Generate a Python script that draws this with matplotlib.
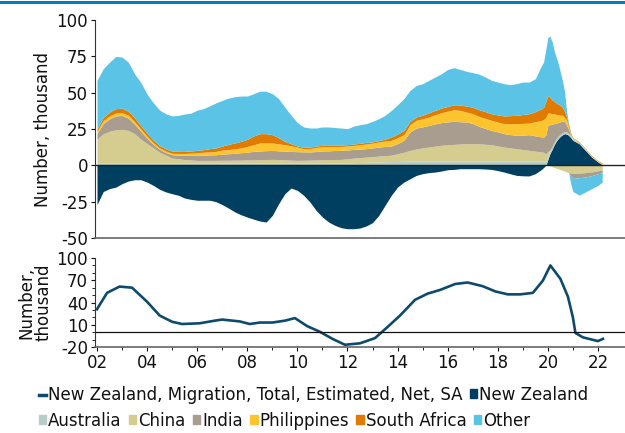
import matplotlib
matplotlib.use("Agg")
import matplotlib.pyplot as plt
import numpy as np
from matplotlib.patches import Patch
from matplotlib.lines import Line2D

plt.rcParams['font.family'] = ['DejaVu Sans']
plt.rcParams['axes.unicode_minus'] = False

# ---------------------------------------------------------------- data
dates = [2002.00, 2002.25, 2002.50, 2002.75, 2003.00, 2003.25, 2003.50, 2003.75,
         2004.00, 2004.25, 2004.50, 2004.75, 2005.00, 2005.25, 2005.50, 2005.75,
         2006.00, 2006.25, 2006.50, 2006.75, 2007.00, 2007.25, 2007.50, 2007.75,
         2008.00, 2008.25, 2008.50, 2008.75, 2009.00, 2009.25, 2009.50, 2009.75,
         2010.00, 2010.25, 2010.50, 2010.75, 2011.00, 2011.25, 2011.50, 2011.75,
         2012.00, 2012.25, 2012.50, 2012.75, 2013.00, 2013.25, 2013.50, 2013.75,
         2014.00, 2014.25, 2014.50, 2014.75, 2015.00, 2015.25, 2015.50, 2015.75,
         2016.00, 2016.25, 2016.50, 2016.75, 2017.00, 2017.25, 2017.50, 2017.75,
         2018.00, 2018.25, 2018.50, 2018.75, 2019.00, 2019.25, 2019.50, 2019.75,
         2019.83, 2019.92, 2020.00, 2020.08, 2020.17, 2020.25, 2020.33, 2020.42,
         2020.50, 2020.58, 2020.67, 2020.75, 2020.83, 2020.92, 2021.00, 2021.25,
         2021.50, 2021.75, 2022.00, 2022.17]

new_zealand = [-27, -18, -16, -15, -12.6, -10.8, -9.9, -9.9,
               -11.5, -13.8, -16.5, -18.3, -19.5, -20.6, -22.5, -23.4,
               -24, -24, -24, -25, -27, -29.4, -32, -34,
               -35.6, -37, -38.3, -39, -34.4, -26.4, -19.5, -15.6,
               -17.2, -20.6, -25.2, -31, -35.6, -39, -41.3, -42.9,
               -43.6, -43.6, -43.1, -41.7, -39.4, -34.4, -27.5, -20.6,
               -14.9, -11.5, -9.2, -6.9, -5.7, -5, -4.6, -3.9,
               -3, -2.8, -2.3, -2.3, -2.3, -2.3, -2.5, -2.8,
               -3.6, -4.6, -5.8, -6.9, -7.2, -7.3, -5.7, -2.8,
               -1.5, 0, 4, 8, 11, 14, 16.5, 18.5,
               20, 21, 21.8, 21.5, 20.6, 19, 17.2, 14.9,
               10.3, 5.7, 2.3, 0.5]
australia = [1.5] * 40 + [1.7, 1.8, 2.0, 2.1, 2.2, 2.3, 2.5, 2.6,
                          2.7, 2.8, 2.9] + [3.0] * 21 + \
            [3, 3, 2.5, 2, 2, 2, 1.8, 1.8, 1.5, 1.5, 1.5, 1.5, 1.3, 1.2,
             1, 0.8, 0.7, 0.5, 0.3, 0.2]
china = [16.5, 20.3, 22.0, 23.0, 23.3, 22.5, 20.3, 16.5,
         13.5, 10.5, 7.5, 5.5, 3.5, 3.0, 2.5, 2.2,
         1.9, 1.9, 1.9, 1.9, 2.0, 2.0, 2.1, 2.1,
         2.2, 2.2, 2.4, 2.5, 2.6, 2.5, 2.3, 2.1,
         1.9, 2.0, 2.1, 2.2, 2.4, 2.5, 2.5, 2.6,
         2.8, 3.2, 3.3, 3.6, 3.8, 4.1, 4.2, 4.4,
         5.3, 6.2, 7.4, 8.3, 9.0, 9.6, 10.2, 10.8,
         11.1, 11.4, 11.7, 11.9, 11.9, 11.9, 11.5, 11.2,
         10.4, 9.6, 9.0, 8.5, 7.9, 7.3, 6.8, 6.2,
         6, 5, 3, 0.5, -1, -1.5, -2, -2.5,
         -3, -3.5, -4, -4.5, -5, -5.3, -5.5, -5.5,
         -5, -4.5, -3.8, -3.2]
india = [4.0, 7.0, 8.5, 9.5, 9.5, 8.5, 6.5, 5.5,
         3.5, 2.3, 2.0, 1.8, 2.3, 2.5, 2.9, 3.2,
         3.5, 3.6, 3.8, 3.9, 4.2, 4.5, 4.7, 5.1,
         5.4, 5.9, 6.0, 6.1, 6.2, 6.0, 6.0, 6.0,
         6.0, 5.8, 5.6, 5.8, 6.0, 6.0, 6.2, 6.2,
         6.1, 6.0, 5.9, 5.8, 6.0, 6.1, 6.3, 6.3,
         7.0, 8.2, 12.7, 14.4, 14.5, 14.9, 15.3, 15.6,
         15.8, 15.9, 15.3, 14.9, 13.9, 11.9, 10.9, 9.8,
         9.6, 9.2, 9.2, 9.1, 9.9, 10.8, 10.5, 10.3,
         10.5, 13, 18, 17.5, 15.3, 12.7, 10.7, 9.2,
         8.5, 8, 6.7, 4.5, 3, -2, -3.5, -3,
         -3, -2.5, -2, -1.8]
philippines = [1.5, 2.0, 2.0, 2.0, 2.0, 2.0, 1.8, 1.5,
               1.5, 1.2, 1.0, 1.0, 1.0, 1.2, 1.3, 1.5,
               1.8, 2.0, 2.1, 2.3, 2.8, 2.8, 3.1, 3.3,
               3.9, 4.6, 5.5, 5.3, 5.1, 4.8, 4.4, 3.8,
               3.2, 2.1, 2.4, 2.8, 2.9, 2.8, 2.8, 2.7,
               2.7, 2.7, 3.0, 3.2, 3.3, 3.5, 3.7, 3.9,
               4.0, 3.8, 5.0, 5.3, 5.5, 5.8, 6.3, 6.8,
               7.4, 8.0, 7.8, 6.9, 6.7, 6.9, 6.9, 7.0,
               6.8, 6.9, 7.5, 8.1, 8.1, 8.0, 9.7, 11.5,
               12, 12, 8.5, 8, 7.2, 6.8, 6, 5.5,
               4.5, 3.9, 3, 3.5, 1.5, 1, 0.5, 0.3,
               0.3, 0.3, 0.3, 0.5]
south_africa = [1.5, 2.2, 2.7, 3.0, 3.0, 2.7, 2.5, 2.3,
                2.0, 1.8, 1.6, 1.5, 1.5, 1.4, 1.4, 1.5,
                1.6, 1.8, 2.2, 2.4, 2.8, 3.6, 4.0, 4.5,
                4.9, 6.0, 6.4, 6.4, 5.7, 4.2, 2.3, 1.5,
                0.7, 1.0, 1.0, 1.0, 1.0, 1.0, 1.0, 1.0,
                0.9, 1.0, 1.0, 1.1, 0.9, 1.0, 1.3, 2.3,
                2.5, 3.0, 2.3, 2.3, 2.5, 2.9, 3.0, 3.2,
                3.2, 3.4, 3.7, 4.1, 4.5, 4.6, 4.7, 4.5,
                4.9, 5.3, 5.5, 5.7, 6.1, 6.4, 7.0, 8.0,
                8.5, 11, 12, 11, 9.5, 8.5, 8, 7,
                6.8, 5.6, 4, 2, 1.5, 0.8, 0.3, 0.3,
                0.3, 0.3, 0.3, 0.5]
other = [33.5, 33.5, 34.3, 36.0, 35.2, 33.8, 30.4, 29.7,
         27.0, 25.7, 24.4, 24.2, 24.2, 24.8, 25.7, 26.0,
         27.7, 28.2, 29.5, 31.0, 31.4, 31.9, 31.8, 31.2,
         29.8, 29.1, 29.2, 29.2, 28.2, 26.9, 23.5, 19.5,
         16.1, 14.0, 13.1, 12.4, 12.6, 12.6, 12.0, 11.7,
         11.0, 12.3, 12.8, 12.9, 14.1, 15.1, 16.4, 18.3,
         20.2, 21.9, 21.3, 21.7, 21.7, 22.3, 23.0, 23.6,
         25.5, 25.5, 24.5, 23.9, 23.8, 24.5, 23.8, 23.0,
         22.6, 22.2, 21.3, 21.8, 22.3, 21.8, 22.6, 29.8,
         31, 36, 40, 42, 40, 35, 31.5, 28,
         22.7, 18.5, 13.5, 3.7, 0.8, -6, -9, -12,
         -10.3, -9, -8, -6.5]

net_dates = [2002.0, 2002.4, 2002.9, 2003.4, 2004.0, 2004.5, 2005.0, 2005.4,
             2006.1, 2006.7, 2007.0, 2007.7, 2008.1, 2008.5, 2009.0, 2009.5,
             2009.9, 2010.4, 2010.9, 2011.4, 2011.9, 2012.5, 2013.1, 2013.6,
             2014.1, 2014.7, 2015.2, 2015.7, 2016.3, 2016.8, 2017.4, 2017.9,
             2018.4, 2018.9, 2019.4, 2019.8, 2020.1, 2020.5, 2020.8, 2021.0,
             2021.1, 2021.4, 2022.0, 2022.2]
net_migration = [31, 53, 61.5, 60, 41, 22.5, 14, 11,
                 12, 15.5, 17, 14.5, 11, 13, 13, 15.5,
                 19, 8, 0.5, -9, -17, -15, -8, 7,
                 22.5, 43.7, 52, 57, 65, 67, 62, 55,
                 51, 51, 53, 69.5, 90, 72, 48, 20,
                 -1, -7, -12, -9]

series_names = ['New Zealand', 'Australia', 'China', 'India', 'Philippines',
                'South Africa', 'Other']
series_colors = ['#003f5f', '#b8cdc8', '#d4cd8f', '#a99d90', '#fcc52f',
                 '#e07b00', '#5bc4e6']
line_name = 'New Zealand, Migration, Total, Estimated, Net, SA'
line_color = '#0e4a6c'
year_ticks = list(range(2002, 2023, 2))
year_labels = ['02', '04', '06', '08', '10', '12', '14', '16', '18', '20', '22']

FS = 12

# ---------------------------------------------------------------- plot
fig = plt.figure(figsize=(6.25, 4.33), dpi=100)
ax1 = fig.add_axes([0.152, 0.4503, 0.848, 0.5035])
ax2 = fig.add_axes([0.152, 0.1986, 0.848, 0.2055])

t = np.array(dates)
pos = np.zeros(len(t))
neg = np.zeros(len(t))
for vals, col in zip([new_zealand, australia, china, india, philippines,
                      south_africa, other], series_colors):
    v = np.array(vals, dtype=float)
    p = np.clip(v, 0, None)
    n = np.clip(v, None, 0)
    ax1.fill_between(t, pos, pos + p, color=col, lw=0)
    ax1.fill_between(t, neg, neg + n, color=col, lw=0)
    pos += p
    neg += n

ax1.axhline(0, color='#222222', lw=1.0)
ax1.set_ylim(-50, 100)
ax1.set_yticks([100, 75, 50, 25, 0, -25, -50])
ax1.set_xlim(2001.92, 2023.08)
ax1.set_xticks([])
ax1.set_ylabel('Number, thousand', fontsize=FS, color='#111111', labelpad=3)

ax2.plot(net_dates, net_migration, color=line_color, lw=1.9)
ax2.axhline(0, color='#111111', lw=0.9)
ax2.set_ylim(-20, 100)
ax2.set_yticks([100, 70, 40, 10, -20])
ax2.set_yticks(np.arange(-20, 101, 10), minor=True)
ax2.set_xlim(2001.92, 2023.08)
ax2.set_xticks(year_ticks)
ax2.set_xticklabels(year_labels)
ax2.set_xticks(range(2002, 2023), minor=True)
ax2.set_ylabel('Number,\nthousand', fontsize=FS, color='#111111',
               labelpad=3, linespacing=0.9)

for ax in (ax1, ax2):
    ax.spines['top'].set_visible(False)
    ax.spines['right'].set_visible(False)
    ax.spines['left'].set_color('#333333')
    ax.spines['bottom'].set_color('#666666')
    ax.spines['bottom'].set_linewidth(1.2)
    ax.tick_params(axis='both', labelsize=FS, colors='#111111',
                   length=3, width=0.8, pad=2)
    ax.tick_params(which='minor', length=2, width=0.6)
    ax.patch.set_alpha(0)

# blue rule at top
fig.add_artist(Line2D([0, 1], [0.9945, 0.9945], color='#0a7bb8', lw=2.2))

# legends
h_line = [Line2D([0], [0], color=line_color, lw=2.5)]
h_nz = [Patch(color=series_colors[0])]
leg1 = fig.legend(h_line + h_nz, [line_name, series_names[0]],
                  loc='center left', bbox_to_anchor=(0.062, 0.088), ncol=2,
                  frameon=False, fontsize=FS, handlelength=0.45,
                  handleheight=0.45, handletextpad=0.1, columnspacing=0.45,
                  borderpad=0, borderaxespad=0)
h_rest = [Patch(color=c) for c in series_colors[1:]]
leg2 = fig.legend(h_rest, series_names[1:], loc='center left',
                  bbox_to_anchor=(0.062, 0.028), ncol=6, frameon=False,
                  fontsize=FS, handlelength=0.45, handleheight=0.45,
                  handletextpad=0.1, columnspacing=0.45, borderpad=0,
                  borderaxespad=0)
for leg in (leg1, leg2):
    for txt in leg.get_texts():
        txt.set_color('#111111')

fig.savefig('out.png', dpi=100)
